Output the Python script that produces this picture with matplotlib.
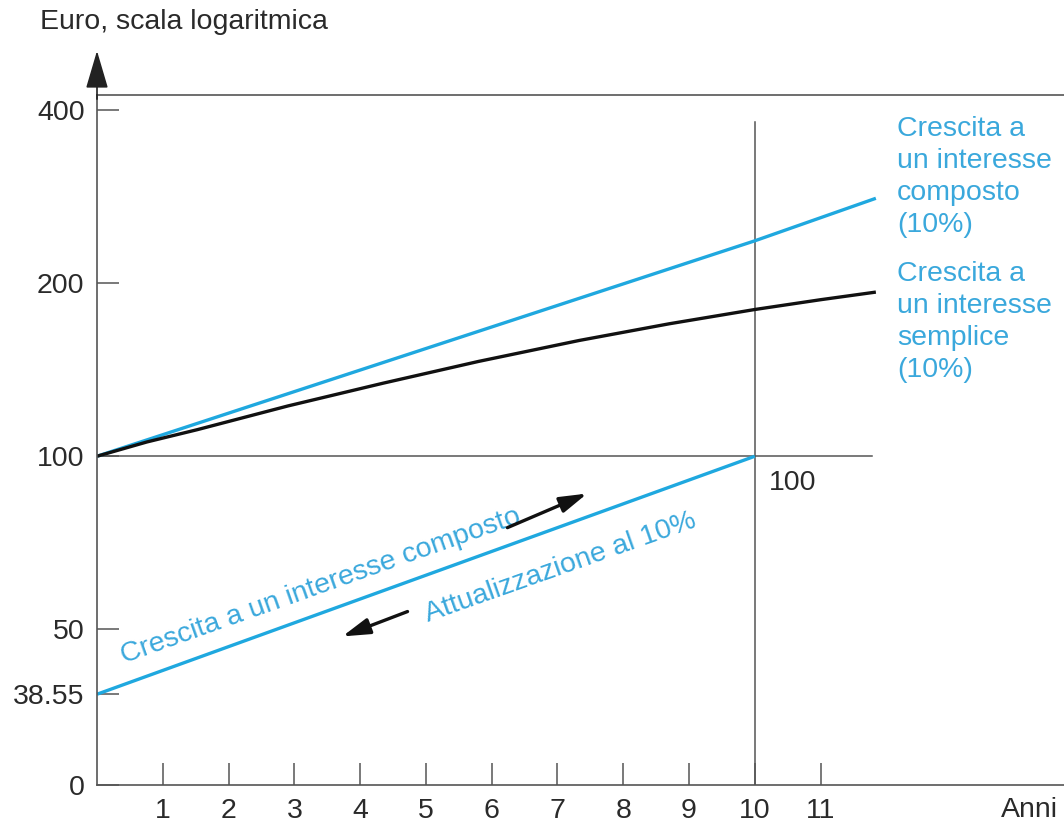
import matplotlib.pyplot as plt

plt.rcParams['font.family'] = ['Liberation Sans', 'DejaVu Sans']

# values (log scale in euro)
years_compound = [0, 10, 11.84]
values_compound = [100, 237, 281]

years_simple = [0, 0.76, 1.52, 2.9, 4.35, 5.8, 7.33, 8.7, 10, 11.0, 11.84]
values_simple = [100, 105.9, 111.2, 122.3, 134, 146.2, 159, 170, 180, 187.2, 193]

years_discount = [0, 10]
values_discount = [38.55, 100]

ytick_values = [26.8, 38.55, 50, 100, 200, 400]
ytick_labels = ['0', '38.55', '50', '100', '200', '400']
xtick_values = list(range(1, 12))

blue = '#1fa8df'
text_blue = '#3aa8dc'
axis_gray = '#555555'
dark = '#2a2a2a'
fs = 20.5

fig = plt.figure(figsize=(10.64, 8.26), dpi=100)
ax = fig.add_axes([97 / 1064, 41 / 826, 967 / 1064, 690 / 826])

ax.set_yscale('log')
ax.set_xlim(0, 14.7)
ax.set_ylim(26.8, 425)

# reference lines at 100 euro and year 10
ax.plot([0, 11.78], [100, 100], color=axis_gray, lw=1.1)
ax.plot([10, 10], [26.8, 381], color=axis_gray, lw=1.1)

ax.plot(years_compound, values_compound, color=blue, lw=2.4, solid_capstyle='butt')
ax.plot(years_simple, values_simple, color='#111111', lw=2.4, solid_capstyle='butt',
        solid_joinstyle='round')
ax.plot(years_discount, values_discount, color=blue, lw=2.4, solid_capstyle='butt')

ax.set_yticks(ytick_values)
ax.set_yticklabels(ytick_labels)
ax.minorticks_off()
ax.set_xticks(xtick_values)
ax.set_xticklabels([str(t) for t in xtick_values])
ax.tick_params(axis='both', direction='in', length=16, width=1.1, color=axis_gray,
               labelsize=fs, labelcolor=dark)
ax.tick_params(axis='y', pad=9)
ax.tick_params(axis='x', pad=9)

for side in ['left', 'bottom', 'top']:
    ax.spines[side].set_color(axis_gray)
    ax.spines[side].set_linewidth(1.2)
ax.spines['right'].set_visible(False)

# y axis arrow
ax.annotate('', xy=(0, 1.068), xytext=(0, 0.99), xycoords='axes fraction',
            arrowprops=dict(arrowstyle='-|>,head_length=0.95,head_width=0.28',
                            mutation_scale=25, color='#222222', lw=1.2),
            annotation_clip=False)

ax.text(10.58, 89.7, '100', fontsize=fs, color=dark, ha='center', va='center')

ax.text(12.16, 390, 'Crescita a\nun interesse\ncomposto\n(10%)', fontsize=fs,
        color=text_blue, ha='left', va='top', linespacing=1.3)
ax.text(12.16, 219, 'Crescita a\nun interesse\nsemplice\n(10%)', fontsize=fs,
        color=text_blue, ha='left', va='top', linespacing=1.3)

ax.text(3.4, 59.3, 'Crescita a un interesse composto', fontsize=fs, color=text_blue,
        rotation=19.5, ha='center', va='center', rotation_mode='anchor')
ax.text(7.05, 64.0, 'Attualizzazione al 10%', fontsize=fs, color=text_blue,
        rotation=19.5, ha='center', va='center', rotation_mode='anchor')

arrow_style = '-|>,head_length=0.75,head_width=0.22'
ax.annotate('', xy=(7.49, 86.5), xytext=(6.2, 74.8),
            arrowprops=dict(arrowstyle=arrow_style, mutation_scale=22,
                            color='#111111', lw=2.4))
ax.annotate('', xy=(3.69, 48.4), xytext=(4.76, 53.9),
            arrowprops=dict(arrowstyle=arrow_style, mutation_scale=22,
                            color='#111111', lw=2.4))

fig.text(40 / 1064, 1 - 22 / 826, 'Euro, scala logaritmica', fontsize=fs,
         color=dark, ha='left', va='center')
fig.text(1058 / 1064, 1 - 810 / 826, 'Anni', fontsize=fs, color=dark,
         ha='right', va='center')

fig.savefig('out.png', dpi=100)
